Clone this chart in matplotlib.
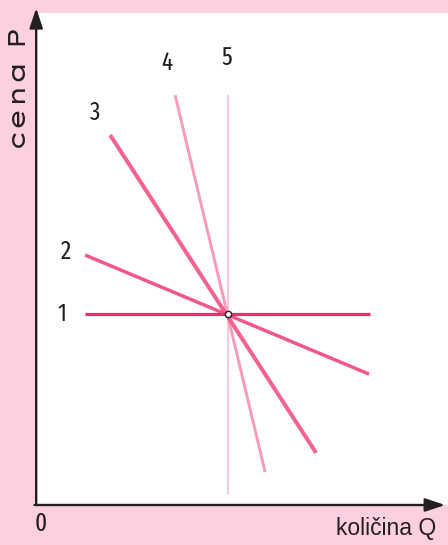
import matplotlib
matplotlib.use("Agg")
import matplotlib.pyplot as plt
from matplotlib import font_manager

# Curve numbers and their end points (quantity Q, price P)
curve_ids = ["1", "2", "3", "4", "5"]
q_start = [11.7, 11.7, 17.8, 33.6, 46.5]
p_start = [38.8, 50.8, 75.2, 83.3, 83.3]
q_end = [81.0, 80.8, 67.9, 55.5, 46.5]
p_end = [38.8, 26.6, 10.6, 6.7, 2.2]

# where the curve numbers sit
label_q = [6.1, 7.1, 14.1, 31.6, 46.2]
label_p = [38.8, 51.4, 79.7, 89.8, 90.9]

# common point of all curves
eq_q = 46.5
eq_p = 38.8

colors = ["#ea2f6c", "#f2578a", "#f2648f", "#f79bbb", "#f9b6cc"]
widths = [2.3, 2.5, 2.9, 2.1, 1.1]

BG = "#fdcfdf"
INK = "#231f20"

available = {f.name for f in font_manager.fontManager.ttflist}


def pick(*names):
    return [n for n in names if n in available] + ["DejaVu Sans"]


narrow = pick("Fira Sans Extra Condensed", "Archivo Narrow", "Roboto Condensed")
wide = pick("Lexend Zetta", "Lexend Tera", "Lexend Giga", "Stint Ultra Expanded")
plain = pick("Liberation Sans")

fig = plt.figure(figsize=(4.48, 5.45), dpi=100, facecolor=BG)
ax = fig.add_axes([37 / 448, 40 / 545, 411 / 448, 492 / 545])
ax.set_facecolor("white")
ax.set_xlim(0, 100)
ax.set_ylim(0, 100)
for s in ax.spines.values():
    s.set_visible(False)
ax.set_xticks([])
ax.set_yticks([])

# axes with arrow heads
arrow = dict(arrowstyle="-|>,head_length=1.2,head_width=0.4", mutation_scale=10,
             lw=1.7, color=INK, shrinkA=0, shrinkB=0)
ax.annotate("", xy=(-0.2, 101.0), xytext=(-0.2, 0), arrowprops=arrow,
            annotation_clip=False)
ax.annotate("", xy=(99.3, 0), xytext=(-0.6, 0), arrowprops=arrow,
            annotation_clip=False)

for i in range(len(curve_ids)):
    ax.plot([q_start[i], q_end[i]], [p_start[i], p_end[i]],
            color=colors[i], lw=widths[i], solid_capstyle="butt", zorder=3 + (4 - i) * 0.1)
    ax.text(label_q[i], label_p[i], curve_ids[i], fontsize=18, family=narrow,
            color=INK, ha="center", va="center")

ax.plot([eq_q], [eq_p], marker="o", ms=4.5, mfc="white", mec=INK, mew=1.0, zorder=5)

fig.text(19 / 448, 1 - 88 / 545, "cena P", rotation=90, fontsize=17, family=wide,
         color=INK, ha="center", va="center")
fig.text(386 / 448, 1 - 528 / 545, "količina Q", fontsize=16.5, family=plain,
         color=INK, ha="center", va="center")
fig.text(41 / 448, 1 - 524 / 545, "0", fontsize=18, family=narrow,
         color=INK, ha="center", va="center")

fig.savefig("out.png", dpi=100, facecolor=BG)
